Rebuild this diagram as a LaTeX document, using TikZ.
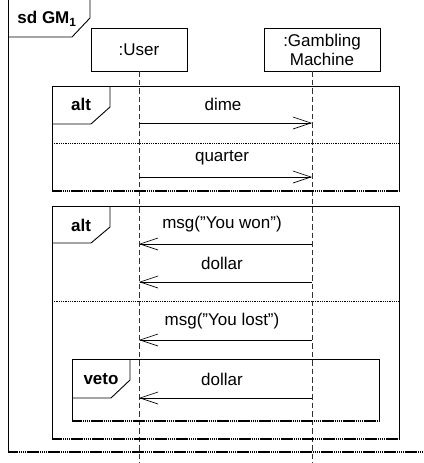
\documentclass[tikz,border=0pt]{standalone}
\usepackage{fontspec}
\setmainfont{Liberation Sans}
\usetikzlibrary{arrows.meta}
\begin{document}
\begin{tikzpicture}[x=1pt,y=-1pt,
  ln/.style={line width=0.9pt},
  lifebox/.style={draw,line width=0.9pt,minimum height=43pt,inner sep=0pt,align=center,font=\fontsize{17}{19}\selectfont},
  lifeline/.style={line width=0.9pt,dash pattern=on 5.5pt off 3pt,black!80},
  lbl/.style={font=\fontsize{17}{19}\selectfont,inner sep=0pt},
  kw/.style={font=\fontsize{17}{19}\selectfont\bfseries,inner sep=0pt},
  msgline/.style={line width=0.9pt,-{Straight Barb[length=18pt,width=12pt,line width=0.7pt]}},
  sep/.style={line width=0.8pt,densely dotted},
  bottomedge/.style={line width=1.3pt,dash pattern=on 1.6pt off 0.5pt}]
\useasboundingbox (0,0) rectangle (423,463);
% outer frame
\draw[ln] (8,-5) -- (8,452);
\draw[bottomedge] (8,452) -- (430,452);
\draw[ln] (90,-5) -- (90,18) -- (72,37) -- (8,37);
\node[kw] (sdlbl) at (47,19) {sd GM\textsubscript{1}};
% lifelines
\node[lifebox,minimum width=96pt] (user) at (139,49.5) {:User};
\node[lifebox,minimum width=116pt] (gm) at (322,49.5) {:Gambling\\Machine};
\coordinate (ut) at (139,71);
\coordinate (ub) at (139,463);
\coordinate (gt) at (312,71);
\coordinate (gb) at (312,463);
\draw[lifeline] (ut) -- (ub);
\draw[lifeline] (gt) -- (gb);
% first alt
\draw[ln] (52,191) -- (52,86) -- (399,86) -- (399,191);
\draw[bottomedge] (52,191) -- (399,191);
\draw[ln] (110,86) -- (110,107) -- (91,124) -- (52,124);
\node[kw] (alt1) at (81,104) {alt};
\draw[sep] (52,143) -- (399,143);
\coordinate (u1) at (139,123); \coordinate (g1) at (312,123);
\draw[msgline] (u1) -- (g1);
\node[lbl] (dime) at (223,104) {dime};
\coordinate (u2) at (139,177); \coordinate (g2) at (312,177);
\draw[msgline] (u2) -- (g2);
\node[lbl] (quarter) at (222,158) {quarter};
% second alt
\draw[ln] (52,439) -- (52,206) -- (399,206) -- (399,439);
\draw[bottomedge] (52,439) -- (399,439);
\draw[ln] (110,206) -- (110,227) -- (91,243) -- (52,243);
\node[kw] (alt2) at (81,225) {alt};
\draw[sep] (52,301) -- (399,301);
\coordinate (u3) at (139,244); \coordinate (g3) at (312,244);
\draw[msgline] (g3) -- (u3);
\node[lbl] (won) at (222,224) {msg(”You won”)};
\coordinate (u4) at (139,282); \coordinate (g4) at (312,282);
\draw[msgline] (g4) -- (u4);
\node[lbl] (dollar1) at (222,263) {dollar};
\coordinate (u5) at (139,340); \coordinate (g5) at (312,340);
\draw[msgline] (g5) -- (u5);
\node[lbl] (lost) at (222,321) {msg(”You lost”)};
% veto
\draw[ln] (72,421) -- (72,359) -- (379,359) -- (379,421);
\draw[bottomedge] (72,421) -- (379,421);
\draw[ln] (130,359) -- (130,380) -- (111,398) -- (72,398);
\node[kw] (veto) at (101,379) {veto};
\coordinate (u6) at (139,398); \coordinate (g6) at (312,398);
\draw[msgline] (g6) -- (u6);
\node[lbl] (dollar2) at (222,379) {dollar};
\end{tikzpicture}
\end{document}
